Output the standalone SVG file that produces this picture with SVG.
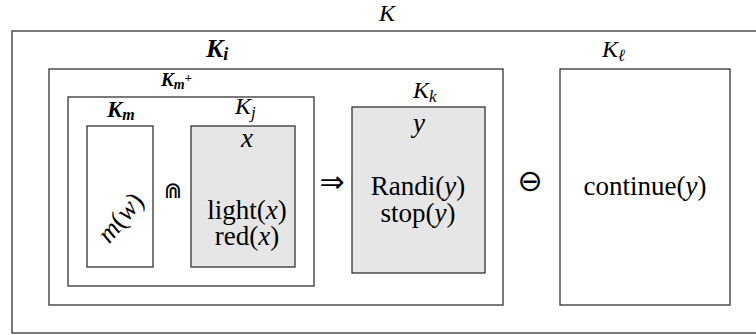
<svg xmlns="http://www.w3.org/2000/svg" width="756" height="335" viewBox="0 0 756 335">
<style>
.b{fill:none;stroke:#333;stroke-width:1.3}
.w{fill:#fff;stroke:#333;stroke-width:1.3}
.g{fill:#e6e6e6;stroke:#333;stroke-width:1.3}
.f{font-family:"Liberation Serif","Times New Roman","DejaVu Serif",serif;fill:#000}
.i{font-style:italic}
.bi{font-style:italic;font-weight:bold}
.s{font-family:"DejaVu Sans",sans-serif;fill:#000}
</style>
<rect width="756" height="335" fill="#fff"/>
<g id="K">
<rect class="b" x="12" y="31" width="760" height="302"/>
<text class="f i" x="379" y="21" font-size="24">K</text>
</g>
<g id="Ki">
<rect class="b" x="49" y="69" width="454" height="236"/>
<text class="f bi" x="206" y="57" font-size="26">K<tspan font-size="18" dy="3">i</tspan></text>
</g>
<g id="Kmplus">
<rect class="b" x="68" y="97" width="246" height="189"/>
<text class="f bi" x="161" y="86" font-size="19">K<tspan font-size="14" dy="3">m</tspan><tspan font-size="13" dy="-7">+</tspan></text>
</g>
<g id="Km">
<rect class="w" x="87" y="126" width="66" height="141"/>
<text class="f bi" x="107" y="117" font-size="23">K<tspan font-size="16" dy="3">m</tspan></text>
<text class="f" font-size="27" text-anchor="middle" transform="translate(121,218) rotate(-50)" dy="8"><tspan class="i">m</tspan>(<tspan class="i">w</tspan>)</text>
</g>
<g id="Kj">
<rect class="g" x="191" y="126" width="104" height="141"/>
<text class="f i" x="235" y="114" font-size="24">K<tspan font-size="17" dy="4">j</tspan></text>
<text class="f i" x="247" y="147" font-size="27" text-anchor="middle">x</text>
<text class="f" x="247" y="219" font-size="27" text-anchor="middle">light(<tspan class="i">x</tspan>)</text>
<text class="f" x="247" y="245" font-size="27" text-anchor="middle">red(<tspan class="i">x</tspan>)</text>
</g>
<g id="Kk">
<rect class="g" x="352" y="107" width="133" height="166"/>
<text class="f i" x="413" y="98" font-size="24">K<tspan font-size="17" dy="4">k</tspan></text>
<text class="f i" x="419" y="132" font-size="27" text-anchor="middle">y</text>
<text class="f" x="418" y="195" font-size="27" text-anchor="middle">Randi(<tspan class="i">y</tspan>)</text>
<text class="f" x="418" y="222" font-size="27" text-anchor="middle">stop(<tspan class="i">y</tspan>)</text>
</g>
<g id="Kl">
<rect class="w" x="560" y="69" width="170" height="236"/>
<text class="f i" x="602" y="57" font-size="24">K<tspan font-size="17" dy="4">ℓ</tspan></text>
<text class="f" x="645" y="195" font-size="27" text-anchor="middle">continue(<tspan class="i">y</tspan>)</text>
</g>
<g id="connectors">
<text class="s" x="173" y="198" font-size="22" text-anchor="middle">⋒</text>
<text class="s" x="332" y="192" font-size="30" text-anchor="middle">⇒</text>
<text class="s" x="530" y="191" font-size="30" text-anchor="middle">⊖</text>
</g>
</svg>
